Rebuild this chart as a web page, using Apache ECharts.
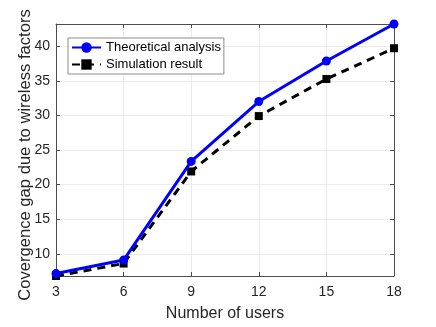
<!DOCTYPE html>
<html>
<head>
<meta charset="utf-8">
<script src="https://cdn.jsdelivr.net/npm/echarts@6/dist/echarts.min.js"></script>
<style>
  html, body { margin: 0; padding: 0; background: #fff; }
  #chart { width: 436px; height: 327px; }
</style>
</head>
<body>
<div id="chart"></div>
<script>
const users = [3, 6, 9, 12, 15, 18]
const theoretical = [7.15, 9.1, 23.35, 32.0, 37.85, 43.2]
const simulation = [6.8, 8.6, 21.9, 29.9, 35.25, 39.7]

const axisColor = "#4d4d4d"
const textColor = "#262626"
const font = "Liberation Sans, Arial, sans-serif"

function pairs(xs, ys) {
  return xs.map((x, i) => [x, ys[i]])
}

const chart = echarts.init(document.getElementById("chart"))

const xBase = {
  type: "value",
  min: 3,
  max: 18,
  interval: 3,
  axisLine: { show: true, onZero: false, lineStyle: { color: axisColor, width: 1 } },
  axisTick: { show: true, inside: true, length: 4, lineStyle: { color: axisColor } }
}
const yBase = {
  type: "value",
  min: 6.8,
  max: 43.2,
  splitNumber: 7,
  minInterval: 5,
  maxInterval: 5,
  axisLine: { show: true, onZero: false, lineStyle: { color: axisColor, width: 1 } },
  axisTick: { show: true, inside: true, length: 4, lineStyle: { color: axisColor } }
}

chart.setOption({
  animation: false,
  textStyle: { fontFamily: font },
  grid: { left: 56, right: 42, top: 24, bottom: 45 },
  legend: {
    left: 68,
    top: 38,
    orient: "vertical",
    backgroundColor: "#fff",
    borderColor: "#8c8c8c",
    borderWidth: 1,
    borderRadius: 0,
    padding: [3, 3, 3, 3],
    itemWidth: 29,
    itemHeight: 13,
    itemGap: 4,
    textStyle: { fontSize: 13, color: "#000", fontFamily: font },
    data: ["Theoretical analysis", "Simulation result"]
  },
  xAxis: [
    Object.assign({}, xBase, {
      position: "bottom",
      name: "Number of users",
      nameLocation: "middle",
      nameGap: 30,
      nameMoveOverlap: false,
      nameTextStyle: { fontSize: 16, color: textColor, fontFamily: font },
      axisLabel: { fontSize: 14, color: textColor, margin: 9, fontFamily: font },
      splitLine: { show: true, lineStyle: { color: "#ebebeb", width: 1 } }
    }),
    Object.assign({}, xBase, {
      position: "top",
      axisLabel: { show: false },
      splitLine: { show: false }
    })
  ],
  yAxis: [
    Object.assign({}, yBase, {
      position: "left",
      name: "Covergence gap due to wireless factors",
      nameLocation: "middle",
      nameGap: 22.5,
      nameMoveOverlap: false,
      nameTextStyle: {
        fontSize: 16.6, color: textColor, fontFamily: font,
        padding: [0, 10, 0, 0]
      },
      axisLabel: {
        fontSize: 14, color: textColor, margin: 6, fontFamily: font,
        showMinLabel: false, showMaxLabel: false,
        formatter: v => (v % 5 === 0 ? String(v) : "")
      },
      splitLine: { show: true, lineStyle: { color: "#ebebeb", width: 1 } }
    }),
    Object.assign({}, yBase, {
      position: "right",
      axisLabel: { show: false },
      splitLine: { show: false }
    })
  ],
  series: [
    {
      name: "Theoretical analysis",
      type: "line",
      data: pairs(users, theoretical),
      clip: false,
      symbol: "circle",
      symbolSize: 9,
      color: "#0000ff",
      lineStyle: { color: "#0000ff", width: 3 },
      itemStyle: { color: "#0000ff" },
      z: 3
    },
    {
      name: "Simulation result",
      type: "line",
      data: pairs(users, simulation),
      clip: false,
      symbol: "rect",
      symbolSize: 8,
      color: "#000",
      lineStyle: { color: "#000", width: 3, type: [8, 6] },
      itemStyle: { color: "#000" },
      z: 2
    }
  ]
})
</script>
</body>
</html>
